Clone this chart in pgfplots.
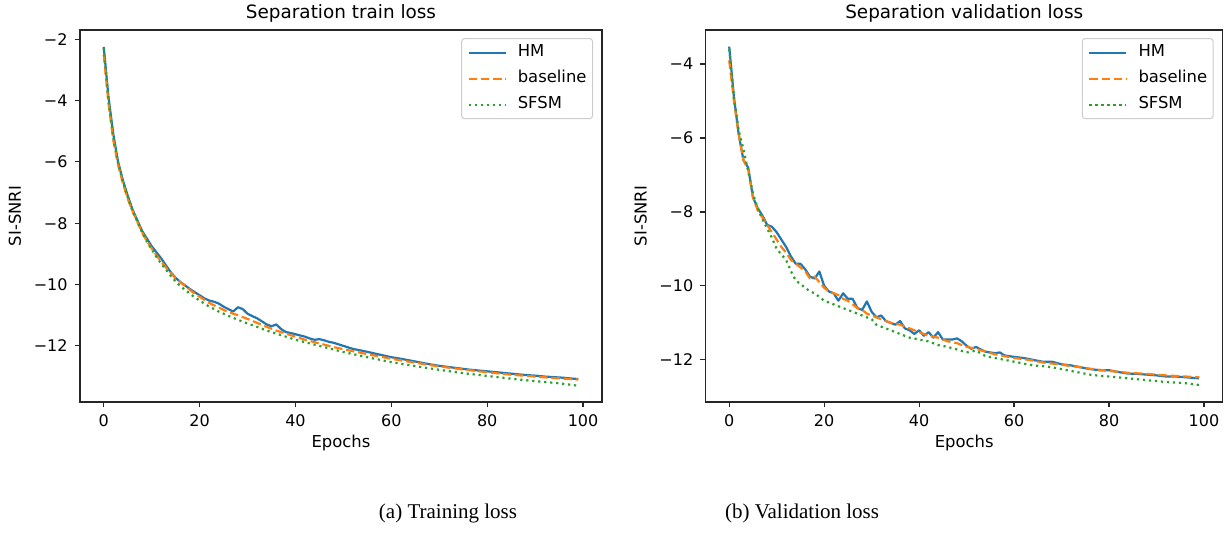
\documentclass[border=0pt]{standalone}
\usepackage{fontspec}
\setmainfont{DejaVu Sans}
\newfontfamily\capfont{Liberation Serif}
\usepackage{pgfplots}
\pgfplotsset{compat=1.18}

\definecolor{tabblue}{HTML}{1F77B4}
\definecolor{taborange}{HTML}{FF7F0E}
\definecolor{tabgreen}{HTML}{2CA02C}

\pgfplotsset{
  mpl/.style={
    scale only axis, height=186pt,
    xmin=-4.95, xmax=103.95,
    xtick={0,20,40,60,80,100}, xticklabels={0,20,40,60,80,100},
    axis line style={line width=0.6pt, black!85},
    tick align=outside, major tick length=2.7pt,
    every tick/.style={black!85, line width=0.6pt},
    xtick pos=lower, ytick pos=left,
    tick label style={font=\fontsize{8}{9.6}\selectfont},
    label style={font=\fontsize{8.2}{9.8}\selectfont, inner sep=0pt},
    every axis title shift=0pt,
    title style={font=\fontsize{9.2}{11}\selectfont, inner sep=0pt,
      at={(axis description cs:0.5,1)}, anchor=south, yshift=3.8pt},
    xlabel style={at={([yshift=-16.5pt]axis description cs:0.5,0)}, anchor=north},
    ylabel style={at={([xshift=-32.5pt]axis description cs:0,0.5)}, anchor=center},
    xlabel={Epochs}, ylabel={SI-SNRI},
    legend cell align=left,
    legend image code/.code={\draw[##1] (0pt,0pt) -- (18.5pt,0pt);},
    legend style={at={(1,1)}, anchor=north east, xshift=-4.5pt, yshift=-4pt,
      draw=black!20, rounded corners=1.5pt, line width=0.5pt,
      font=\fontsize{8.2}{9.8}\selectfont, inner xsep=3pt, inner ysep=3.2pt,
      nodes={inner sep=0pt, text height=6pt, text depth=1.7pt},
      row sep=5.3pt, column sep=5.5pt},
    every axis plot/.append style={no markers, line width=1.1pt, line join=round},
  },
  hm/.style={tabblue},
  base/.style={taborange, dash pattern=on 4.2pt off 1.9pt},
  sfsm/.style={tabgreen, dash pattern=on 1.1pt off 1.9pt},
}

\begin{document}
\begin{tikzpicture}
\path[use as bounding box] (0,0) rectangle (613.5pt,-271pt);

% (a) training loss
\begin{axis}[mpl, at={(40pt,-201pt)}, anchor=south west, width=261pt,
  ymin=-13.83, ymax=-1.70,
  ytick={-12,-10,-8,-6,-4,-2}, yticklabels={−12,−10,−8,−6,−4,−2},
  title={Separation train loss}]
\addplot[hm] coordinates {
(0,-2.25)(1,-3.9)(2,-5.1)(3,-6.0)(4,-6.6)(5,-7.1)(6,-7.55)(7,-7.9)(8,-8.25)(9,-8.5)
(10,-8.75)(11,-8.95)(12,-9.15)(13,-9.38)(14,-9.6)(15,-9.78)(16,-9.92)(17,-10.03)(18,-10.15)(19,-10.25)
(20,-10.35)(21,-10.45)(22,-10.52)(23,-10.56)(24,-10.62)(25,-10.72)(26,-10.8)(27,-10.88)(28,-10.74)(29,-10.8)
(30,-10.95)(31,-11.03)(32,-11.1)(33,-11.2)(34,-11.3)(35,-11.36)(36,-11.3)(37,-11.45)(38,-11.55)(39,-11.58)
(40,-11.62)(41,-11.66)(42,-11.7)(43,-11.76)(44,-11.8)(45,-11.78)(46,-11.82)(47,-11.87)(48,-11.9)(49,-11.95)
(50,-12.0)(52,-12.1)(54,-12.16)(56,-12.23)(58,-12.3)(60,-12.37)(62,-12.42)(64,-12.48)(66,-12.54)(68,-12.6)
(70,-12.65)(72,-12.69)(74,-12.73)(76,-12.77)(78,-12.8)(80,-12.83)(82,-12.86)(84,-12.89)(86,-12.92)(88,-12.95)
(90,-12.97)(92,-13.0)(94,-13.02)(96,-13.04)(98,-13.07)(99,-13.08)};
\addplot[base] coordinates {
(0,-2.5)(1,-4.1)(2,-5.3)(3,-6.1)(4,-6.7)(5,-7.2)(6,-7.6)(7,-7.95)(8,-8.3)(9,-8.58)
(10,-8.82)(11,-9.05)(12,-9.25)(13,-9.45)(14,-9.62)(15,-9.8)(16,-9.93)(17,-10.05)(18,-10.18)(19,-10.3)
(20,-10.4)(22,-10.6)(24,-10.75)(26,-10.9)(28,-11.0)(30,-11.12)(32,-11.25)(34,-11.38)(36,-11.5)(38,-11.6)
(40,-11.7)(42,-11.8)(44,-11.88)(46,-11.96)(48,-12.04)(50,-12.11)(55,-12.27)(60,-12.42)(65,-12.55)(70,-12.67)
(75,-12.77)(80,-12.86)(85,-12.94)(90,-13.0)(95,-13.06)(99,-13.1)};
\addplot[sfsm] coordinates {
(0,-2.3)(1,-4.0)(2,-5.2)(3,-6.05)(4,-6.65)(5,-7.15)(6,-7.6)(7,-7.95)(8,-8.3)(9,-8.6)
(10,-8.85)(11,-9.1)(12,-9.32)(13,-9.52)(14,-9.72)(15,-9.9)(16,-10.05)(17,-10.18)(18,-10.3)(19,-10.42)
(20,-10.52)(22,-10.72)(24,-10.88)(26,-11.02)(28,-11.15)(30,-11.27)(32,-11.38)(34,-11.5)(36,-11.6)(38,-11.7)
(40,-11.8)(42,-11.88)(44,-11.96)(46,-12.04)(48,-12.12)(50,-12.2)(55,-12.37)(60,-12.53)(65,-12.66)(70,-12.78)
(75,-12.89)(80,-12.98)(85,-13.07)(90,-13.15)(95,-13.22)(99,-13.3)};
\legend{HM,baseline,SFSM}
\end{axis}

% (b) validation loss
\begin{axis}[mpl, at={(352.85pt,-201pt)}, anchor=south west, width=258.5pt,
  ymin=-13.14, ymax=-3.08,
  ytick={-12,-10,-8,-6,-4}, yticklabels={−12,−10,−8,−6,−4},
  title={Separation validation loss}]
\addplot[hm] coordinates {
(0,-3.53)(1,-4.9)(2,-5.9)(3,-6.6)(4,-6.8)(5,-7.6)(6,-7.9)(7,-8.1)(8,-8.35)(9,-8.4)
(10,-8.55)(11,-8.75)(12,-8.95)(13,-9.2)(14,-9.4)(15,-9.4)(16,-9.55)(17,-9.75)(18,-9.8)(19,-9.61)
(20,-10.0)(21,-10.15)(22,-10.2)(23,-10.4)(24,-10.2)(25,-10.35)(26,-10.35)(27,-10.6)(28,-10.65)(29,-10.42)
(30,-10.7)(31,-10.85)(32,-10.8)(33,-10.95)(34,-11.0)(35,-11.05)(36,-10.95)(37,-11.15)(38,-11.2)(39,-11.3)
(40,-11.2)(41,-11.35)(42,-11.25)(43,-11.4)(44,-11.25)(45,-11.45)(46,-11.45)(47,-11.45)(48,-11.42)(49,-11.5)
(50,-11.62)(51,-11.7)(52,-11.65)(53,-11.72)(54,-11.78)(55,-11.8)(56,-11.82)(57,-11.8)(58,-11.88)(60,-11.92)
(62,-11.95)(64,-12.0)(66,-12.05)(68,-12.05)(70,-12.12)(72,-12.15)(74,-12.2)(76,-12.25)(78,-12.28)(80,-12.28)
(82,-12.33)(84,-12.37)(86,-12.38)(88,-12.4)(90,-12.42)(92,-12.45)(94,-12.45)(96,-12.47)(99,-12.5)};
\addplot[base] coordinates {
(0,-3.9)(1,-5.0)(2,-5.9)(3,-6.6)(4,-6.85)(5,-7.6)(6,-7.95)(7,-8.15)(8,-8.35)(9,-8.55)
(10,-8.75)(11,-8.95)(12,-9.1)(13,-9.3)(14,-9.4)(15,-9.5)(16,-9.6)(17,-9.8)(18,-9.75)(19,-9.9)
(20,-10.05)(21,-10.15)(22,-10.2)(23,-10.25)(24,-10.35)(25,-10.4)(26,-10.5)(27,-10.6)(28,-10.65)(29,-10.75)
(30,-10.8)(32,-10.9)(34,-11.0)(36,-11.05)(38,-11.15)(40,-11.25)(42,-11.35)(44,-11.4)(46,-11.5)(48,-11.55)
(50,-11.65)(52,-11.7)(54,-11.78)(56,-11.85)(58,-11.9)(60,-11.95)(62,-11.98)(64,-12.02)(66,-12.07)(68,-12.1)
(70,-12.13)(72,-12.17)(74,-12.2)(76,-12.24)(78,-12.27)(80,-12.3)(84,-12.35)(88,-12.38)(92,-12.42)(96,-12.45)(99,-12.47)};
\addplot[sfsm] coordinates {
(0,-3.6)(1,-4.9)(2,-5.8)(3,-6.3)(4,-6.9)(5,-7.5)(6,-7.9)(7,-8.2)(8,-8.45)(9,-8.7)
(10,-9.0)(11,-9.15)(12,-9.3)(13,-9.6)(14,-9.85)(15,-9.95)(16,-10.05)(17,-10.15)(18,-10.2)(19,-10.3)
(20,-10.4)(22,-10.5)(24,-10.6)(26,-10.7)(28,-10.8)(30,-10.9)(31,-11.05)(32,-11.1)(34,-11.2)(36,-11.3)
(38,-11.4)(40,-11.45)(42,-11.5)(44,-11.6)(46,-11.65)(48,-11.72)(50,-11.8)(52,-11.75)(54,-11.9)(56,-11.95)
(58,-12.0)(60,-12.05)(62,-12.1)(64,-12.15)(66,-12.17)(68,-12.2)(70,-12.25)(72,-12.3)(74,-12.35)(76,-12.4)
(78,-12.43)(80,-12.45)(84,-12.5)(88,-12.55)(92,-12.6)(96,-12.63)(99,-12.68)};
\legend{HM,baseline,SFSM}
\end{axis}

\node[font=\capfont\fontsize{10.5}{12.6}\selectfont] at (224pt,-256.5pt) {(a) Training loss};
\node[font=\capfont\fontsize{10.5}{12.6}\selectfont] at (401pt,-256.5pt) {(b) Validation loss};
\end{tikzpicture}
\end{document}
